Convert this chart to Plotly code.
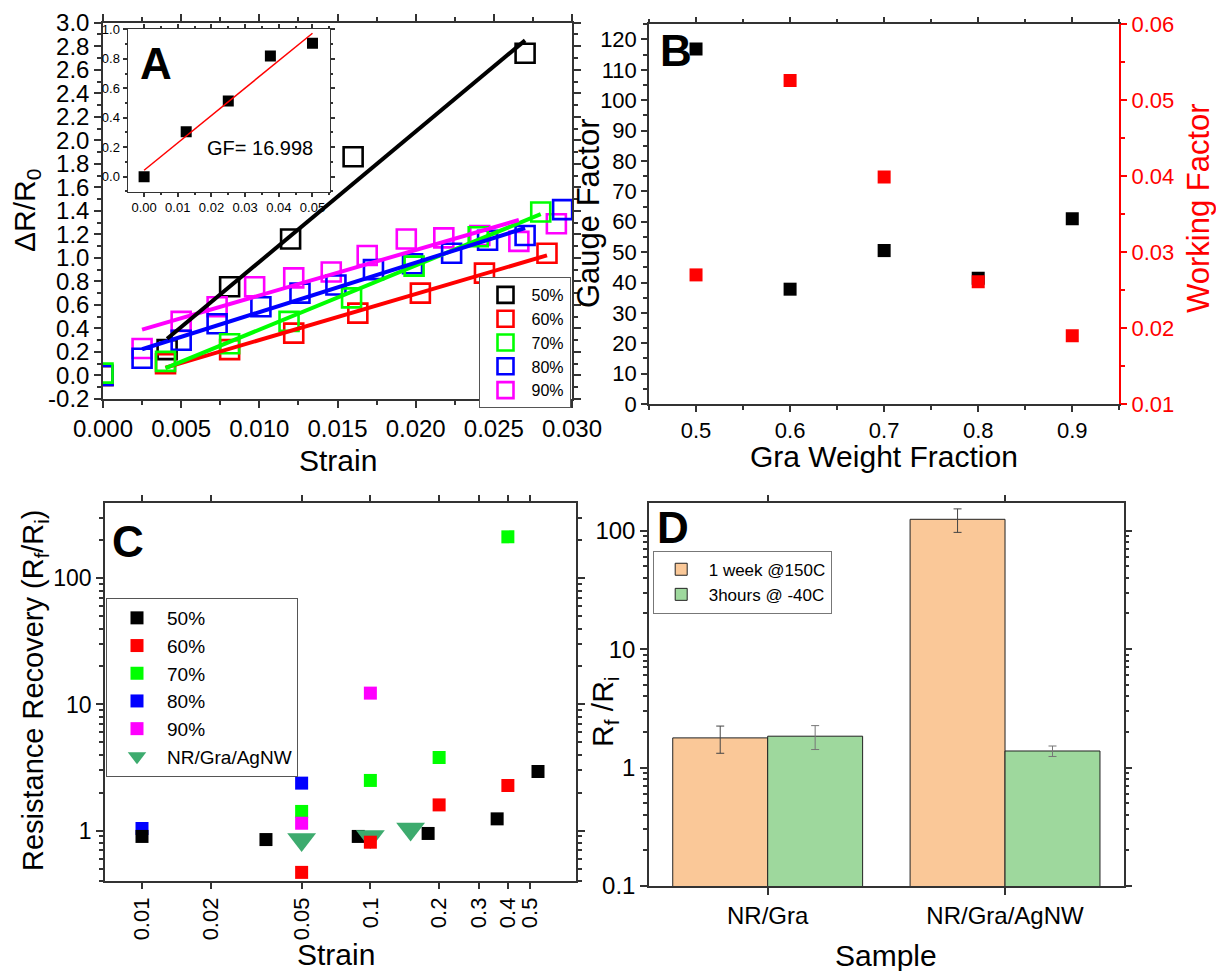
import numpy as np
import plotly.graph_objects as go

W, H = 1216, 971
FONT = "Arial, Liberation Sans, sans-serif"

# ---------------- Panel A data ----------------
strain_50 = [0.0, 0.0041, 0.0081, 0.0120, 0.0160, 0.0270]
dr_50 = [0.0, 0.22, 0.755, 1.16, 1.86, 2.74]
strain_60 = [0.0, 0.0040, 0.0081, 0.0122, 0.0163, 0.0203, 0.0244, 0.0284]
dr_60 = [0.0, 0.10, 0.22, 0.36, 0.53, 0.70, 0.87, 1.04]
strain_70 = [0.0, 0.0040, 0.0081, 0.0119, 0.0159, 0.0199, 0.0240, 0.0280]
dr_70 = [0.02, 0.12, 0.27, 0.46, 0.66, 0.93, 1.18, 1.39]
strain_80 = [0.0, 0.0025, 0.0050, 0.0073, 0.0101, 0.0126, 0.0149, 0.0173,
             0.0198, 0.0223, 0.0246, 0.0270, 0.0294]
dr_80 = [0.0, 0.146, 0.30, 0.44, 0.585, 0.70, 0.77, 0.90, 0.95, 1.04, 1.15, 1.19, 1.41]
strain_90 = [0.0025, 0.0050, 0.0073, 0.0097, 0.0122, 0.0146, 0.0169, 0.0194,
             0.0218, 0.0241, 0.0266, 0.0290]
dr_90 = [0.23, 0.46, 0.585, 0.755, 0.83, 0.88, 1.02, 1.16, 1.17, 1.19, 1.14, 1.29]
# index range of points used in each linear fit
fit_range = {"50%": (1, 6), "60%": (1, 8), "70%": (1, 8), "80%": (1, 12), "90%": (0, 11)}

# inset
inset_strain = [0.0, 0.0125, 0.025, 0.0375, 0.05]
inset_dr = [0.0, 0.305, 0.514, 0.819, 0.905]

# ---------------- Panel B data ----------------
gra_fraction = [0.5, 0.6, 0.7, 0.8, 0.9]
gauge_factor = [116.9, 37.8, 50.5, 41.4, 61.0]
working_factor = [0.0270, 0.0526, 0.0399, 0.0261, 0.0190]

# ---------------- Panel C data ----------------
c50_x = [0.01, 0.0349, 0.0885, 0.179, 0.359, 0.542]
c50_y = [0.90, 0.85, 0.90, 0.95, 1.24, 2.94]
c60_x = [0.05, 0.1, 0.2, 0.4]
c60_y = [0.467, 0.81, 1.60, 2.28]
c70_x = [0.05, 0.1, 0.2, 0.4]
c70_y = [1.42, 2.50, 3.80, 213]
c80_x = [0.01, 0.05]
c80_y = [1.04, 2.38]
c90_x = [0.05, 0.1]
c90_y = [1.145, 12.3]
agnw_x = [0.05, 0.1, 0.15]
agnw_y = [0.85, 0.90, 1.03]
c_xticks = [0.01, 0.02, 0.05, 0.1, 0.2, 0.3, 0.4, 0.5]

# ---------------- Panel D data ----------------
samples = ["NR/Gra", "NR/Gra/AgNW"]
week150 = [1.78, 124.7]
week150_err = [0.46, 28.0]
hours40 = [1.84, 1.38]
hours40_err = [0.42, 0.14]

COL = {"50%": "#000000", "60%": "#FF0000", "70%": "#00FF00", "80%": "#0000FF", "90%": "#FF00FF"}


def px_x(p):
    return p / W


def px_y(p):
    return 1 - p / H


fig = go.Figure()

# ---- Panel A markers ----
seriesA = {
    "50%": (strain_50, dr_50),
    "60%": (strain_60, dr_60),
    "70%": (strain_70, dr_70),
    "80%": (strain_80, dr_80),
    "90%": (strain_90, dr_90),
}
rankA = {"50%": 1, "60%": 2, "70%": 3, "80%": 4, "90%": 5}
for name in ["50%", "60%", "90%", "80%", "70%"]:
    xs, ys = seriesA[name]
    fig.add_trace(go.Scatter(
        x=xs, y=ys, mode="markers", name=name, legend="legend", legendrank=rankA[name],
        marker=dict(symbol="square-open", size=19, color=COL[name], line=dict(width=2.6, color=COL[name])),
        xaxis="x", yaxis="y"))
for name in ["60%", "70%", "80%", "90%", "50%"]:
    xs, ys = seriesA[name]
    i0, i1 = fit_range[name]
    fx = np.array(xs[i0:i1])
    fy = np.array(ys[i0:i1])
    k, b = np.polyfit(fx, fy, 1)
    lx = np.array([fx[0], fx[-1]])
    fig.add_trace(go.Scatter(
        x=lx, y=k * lx + b, mode="lines", showlegend=False,
        line=dict(color=COL[name], width=4), xaxis="x", yaxis="y"))

# ---- Inset ----
fig.add_trace(go.Scatter(x=inset_strain, y=inset_dr, mode="markers", showlegend=False,
                         marker=dict(symbol="square", size=11, color="black"),
                         xaxis="x5", yaxis="y6"))
k, b = np.polyfit(np.array(inset_strain), np.array(inset_dr), 1)
lx = np.array([inset_strain[0], inset_strain[-1]])
fig.add_trace(go.Scatter(x=lx, y=k * lx + b, mode="lines", showlegend=False,
                         line=dict(color="#FF0000", width=1.5), xaxis="x5", yaxis="y6"))

# ---- Panel B ----
fig.add_trace(go.Scatter(x=gra_fraction, y=gauge_factor, mode="markers", showlegend=False,
                         marker=dict(symbol="square", size=13, color="black"),
                         xaxis="x2", yaxis="y2"))
fig.add_trace(go.Scatter(x=gra_fraction, y=working_factor, mode="markers", showlegend=False,
                         marker=dict(symbol="square", size=13, color="#FF0000"),
                         xaxis="x2", yaxis="y3"))

# ---- Panel C ----
def c_sq(x, y, name, rank):
    fig.add_trace(go.Scatter(x=x, y=y, mode="markers", name=name, legend="legend2", legendrank=rank,
                             marker=dict(symbol="square", size=13, color=COL[name]),
                             xaxis="x3", yaxis="y4"))

c_sq(c80_x, c80_y, "80%", 4)
c_sq(c50_x, c50_y, "50%", 1)
fig.add_trace(go.Scatter(x=agnw_x, y=agnw_y, mode="markers", name="NR/Gra/AgNW", legend="legend2",
                         legendrank=6,
                         marker=dict(symbol="triangle-down", size=25, color="#3DAB6E"),
                         xaxis="x3", yaxis="y4"))
c_sq(c60_x, c60_y, "60%", 2)
c_sq(c70_x, c70_y, "70%", 3)
c_sq(c90_x, c90_y, "90%", 5)

# ---- Panel D ----
fig.add_trace(go.Bar(x=samples, y=week150, name="1 week @150C", legend="legend3",
                     marker=dict(color="#FAC898", line=dict(color="#222", width=1)),
                     error_y=dict(type="data", array=week150_err, color="#444", thickness=1, width=4),
                     xaxis="x4", yaxis="y5"))
fig.add_trace(go.Bar(x=samples, y=hours40, name="3hours @ -40C", legend="legend3",
                     marker=dict(color="#9ED89D", line=dict(color="#222", width=1)),
                     error_y=dict(type="data", array=hours40_err, color="#777", thickness=1, width=4),
                     xaxis="x4", yaxis="y5"))

# ---------------- Axes ----------------
LINE = dict(showline=True, linecolor="#333", linewidth=1.5, showgrid=False, zeroline=False,
            ticks="outside", tickcolor="#333", tickwidth=1.5, automargin=False)


def ax(**kw):
    d = dict(LINE)
    d.update(kw)
    return d


a_yt = [round(v, 1) for v in np.arange(-0.2, 3.01, 0.2)]
a_xt = [round(v, 3) for v in np.arange(0, 0.0301, 0.005)]

layout = dict(
    template="none",
    width=W, height=H, margin=dict(l=0, r=0, t=0, b=0, autoexpand=False),
    paper_bgcolor="white", plot_bgcolor="white",
    font=dict(family=FONT, color="black"),
    barmode="group", bargap=0.2, bargroupgap=0,
    xaxis=ax(domain=[px_x(103), px_x(572)], anchor="y", range=[0, 0.03],
             tickmode="array", tickvals=a_xt, ticktext=[f"{v:.3f}" for v in a_xt],
             tickfont=dict(size=24), ticklen=7, mirror="ticks",
             minor=dict(dtick=0.0025, tick0=0, ticklen=4, ticks="outside")),
    yaxis=ax(domain=[px_y(399), px_y(22.7)], anchor="x", range=[-0.2, 3.0],
             tickmode="array", tickvals=a_yt, ticktext=[f"{v:.1f}" for v in a_yt],
             tickfont=dict(size=24), ticklen=7, mirror="ticks",
             minor=dict(dtick=0.1, tick0=0, ticklen=4, ticks="outside")),
    xaxis5=ax(domain=[px_x(127.6), px_x(330)], anchor="y6", range=[-0.0049, 0.0552],
              dtick=0.01, tick0=0, tickformat=".2f", tickfont=dict(size=13), ticklen=4,
              mirror="ticks", linewidth=1.2, minor=dict(dtick=0.005, ticklen=2, ticks="outside")),
    yaxis6=ax(domain=[px_y(191.7), px_y(29.3)], anchor="x5", range=[-0.102, 1.0],
              dtick=0.2, tick0=0, tickformat=".1f", tickfont=dict(size=13), ticklen=4,
              mirror="ticks", linewidth=1.2, minor=dict(dtick=0.1, ticklen=2, ticks="outside")),
    xaxis2=ax(domain=[px_x(649), px_x(1119.3)], anchor="y2", range=[0.45, 0.95],
              dtick=0.1, tick0=0.5, tickformat=".1f", tickfont=dict(size=22), ticklen=6,
              mirror="ticks", minor=dict(dtick=0.05, tick0=0.45, ticklen=4, ticks="outside")),
    yaxis2=ax(domain=[px_y(404), px_y(24.3)], anchor="x2", range=[0, 125],
              dtick=10, tick0=0, tickfont=dict(size=22), ticklen=6,
              minor=dict(dtick=5, ticklen=4, ticks="outside")),
    yaxis3=ax(overlaying="y2", anchor="x2", side="right", range=[0.01, 0.06],
              dtick=0.01, tick0=0.01, tickformat=".2f", tickfont=dict(size=22, color="#FF0000"),
              linecolor="#FF0000", tickcolor="#FF0000", ticklen=6,
              minor=dict(dtick=0.005, tick0=0.01, ticklen=4, ticks="outside", tickcolor="#FF0000")),
    xaxis3=ax(domain=[px_x(105), px_x(575.8)], anchor="y4", type="log", range=[-2.162, -0.1005],
              tickmode="array", tickvals=c_xticks, ticktext=[str(v) for v in c_xticks],
              tickangle=-90, tickfont=dict(size=22), ticklen=6, mirror="ticks"),
    yaxis4=ax(domain=[px_y(881), px_y(502.7)], anchor="x3", type="log", range=[-0.399, 2.599],
              tickmode="array", tickvals=[1, 10, 100], ticktext=["1", "10", "100"],
              tickfont=dict(size=23), ticklen=7, mirror="ticks",
              minor=dict(tickmode="array",
                         tickvals=[0.4, 0.5, 0.6, 0.7, 0.8, 0.9, 2, 3, 4, 5, 6, 7, 8, 9,
                                   20, 30, 40, 50, 60, 70, 80, 90, 200, 300],
                         ticklen=4, ticks="outside")),
    xaxis4=ax(domain=[px_x(649), px_x(1123.7)], anchor="y5", type="category", range=[-0.5, 1.5],
              tickfont=dict(size=24), ticklen=7, mirror="ticks"),
    yaxis5=ax(domain=[px_y(886), px_y(503.3)], anchor="x4", type="log", range=[-1, 2.231],
              tickmode="array", tickvals=[0.1, 1, 10, 100], ticktext=["0.1", "1", "10", "100"],
              tickfont=dict(size=24), ticklen=7, mirror="ticks",
              minor=dict(tickmode="array",
                         tickvals=[0.2, 0.3, 0.4, 0.5, 0.6, 0.7, 0.8, 0.9, 2, 3, 4, 5, 6, 7, 8, 9,
                                   20, 30, 40, 50, 60, 70, 80, 90],
                         ticklen=4, ticks="outside")),
    legend=dict(x=px_x(478.5), y=px_y(277), xanchor="left", yanchor="top", bgcolor="white",
                bordercolor="#555", borderwidth=1, font=dict(size=16), tracegroupgap=0,
                itemwidth=42),
    legend2=dict(x=px_x(106), y=px_y(598), xanchor="left", yanchor="top", bgcolor="white",
                 bordercolor="#555", borderwidth=1, font=dict(size=19), tracegroupgap=0,
                 itemwidth=50),
    legend3=dict(x=px_x(652.7), y=px_y(550.7), xanchor="left", yanchor="top", bgcolor="white",
                 bordercolor="#777", borderwidth=1, font=dict(size=17), tracegroupgap=0,
                 itemwidth=45),
)
fig.update_layout(**layout)

anns = [
    ("Strain", 337.5, 460, 30, 0, "black"),
    ("ΔR/R<sub>0</sub>", 27, 211, 30, -90, "black"),
    ("Gra Weight Fraction", 884, 456, 30, 0, "black"),
    ("Gauge Factor", 589, 213, 31, -90, "black"),
    ("Working Factor", 1198, 208, 31, -90, "#FF0000"),
    ("Resistance Recovery (R<sub>f</sub>/R<sub>i</sub>)", 35, 691, 29, -90, "black"),
    ("Strain", 336, 954, 30, 0, "black"),
    ("R<sub>f</sub> /R<sub>i</sub>", 604, 712, 30, -90, "black"),
    ("Sample", 886, 955, 30, 0, "black"),
    ("<b>A</b>", 156, 63, 44, 0, "black"),
    ("<b>B</b>", 676, 50, 44, 0, "black"),
    ("<b>C</b>", 128, 541, 44, 0, "black"),
    ("<b>D</b>", 673, 527, 44, 0, "black"),
    ("GF= 16.998", 260, 148, 20, 0, "black"),
]
for text, x, y, size, ang, col in anns:
    fig.add_annotation(text=text, x=px_x(x), y=px_y(y), xref="paper", yref="paper",
                       showarrow=False, textangle=ang, xanchor="center", yanchor="middle",
                       font=dict(size=size, color=col, family=FONT))

fig.write_html("out.html", config={"displayModeBar": False},
               post_script="document.body.style.margin='0';document.body.style.padding='0';")
